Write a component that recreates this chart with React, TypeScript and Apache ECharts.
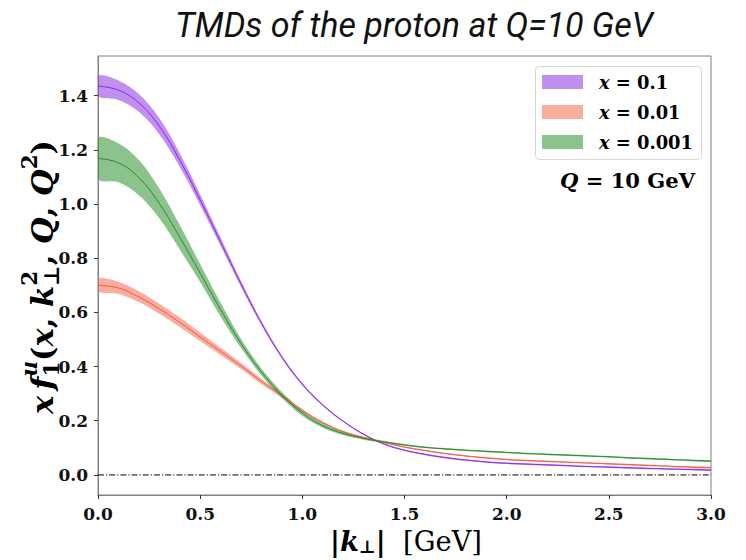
import React, { useEffect, useRef } from "react";
import * as echarts from "echarts";

// ---------------- data ----------------
const kPerp = [0.0, 0.1, 0.2, 0.3, 0.4, 0.5, 0.6, 0.7, 0.8, 0.9, 1.0, 1.1, 1.2, 1.3, 1.4, 1.5, 1.6, 1.7, 1.8, 1.9, 2.0, 2.1, 2.2, 2.3, 2.4, 2.5, 2.6, 2.7, 2.8, 2.9, 3.0];

// x = 0.1
const centralX01 = [1.435, 1.42, 1.373, 1.287, 1.162, 1.015, 0.86, 0.705, 0.56, 0.435, 0.335, 0.258, 0.198, 0.15, 0.114, 0.091, 0.076, 0.064, 0.055, 0.048, 0.043, 0.040, 0.037, 0.034, 0.031, 0.029, 0.026, 0.024, 0.022, 0.020, 0.018];
const lowX01 = [1.398, 1.384, 1.34, 1.257, 1.137, 0.995, 0.845, 0.694, 0.552, 0.429, 0.33, 0.254, 0.195, 0.147, 0.111, 0.088, 0.073, 0.061, 0.052, 0.045, 0.040, 0.037, 0.034, 0.031, 0.028, 0.026, 0.023, 0.021, 0.019, 0.017, 0.015];
const highX01 = [1.473, 1.456, 1.406, 1.317, 1.187, 1.035, 0.875, 0.716, 0.568, 0.441, 0.34, 0.262, 0.201, 0.153, 0.117, 0.094, 0.079, 0.067, 0.058, 0.051, 0.046, 0.043, 0.040, 0.037, 0.034, 0.032, 0.029, 0.027, 0.025, 0.023, 0.021];

// x = 0.01
const centralX001 = [0.7, 0.69, 0.657, 0.613, 0.563, 0.509, 0.456, 0.402, 0.345, 0.292, 0.238, 0.193, 0.16, 0.138, 0.12, 0.103, 0.09, 0.079, 0.07, 0.063, 0.057, 0.053, 0.05, 0.047, 0.044, 0.041, 0.038, 0.035, 0.032, 0.029, 0.027];
const lowX001 = [0.678, 0.669, 0.638, 0.595, 0.546, 0.494, 0.443, 0.391, 0.336, 0.285, 0.233, 0.189, 0.157, 0.135, 0.117, 0.100, 0.087, 0.076, 0.067, 0.060, 0.054, 0.050, 0.047, 0.044, 0.041, 0.038, 0.035, 0.032, 0.029, 0.026, 0.024];
const highX001 = [0.724, 0.713, 0.678, 0.632, 0.581, 0.525, 0.469, 0.413, 0.354, 0.299, 0.243, 0.197, 0.163, 0.141, 0.123, 0.106, 0.093, 0.082, 0.073, 0.066, 0.060, 0.056, 0.053, 0.050, 0.047, 0.044, 0.041, 0.038, 0.035, 0.032, 0.030];

// x = 0.001
const centralX0001 = [1.168, 1.152, 1.097, 1.002, 0.877, 0.745, 0.61, 0.485, 0.38, 0.295, 0.228, 0.182, 0.153, 0.135, 0.122, 0.111, 0.102, 0.096, 0.091, 0.087, 0.083, 0.079, 0.076, 0.073, 0.070, 0.067, 0.063, 0.060, 0.057, 0.054, 0.051];
const lowX0001 = [1.093, 1.08, 1.032, 0.947, 0.832, 0.712, 0.585, 0.468, 0.367, 0.284, 0.218, 0.174, 0.147, 0.13, 0.118, 0.108, 0.099, 0.093, 0.088, 0.084, 0.080, 0.076, 0.073, 0.070, 0.067, 0.064, 0.060, 0.057, 0.054, 0.051, 0.048];
const highX0001 = [1.243, 1.224, 1.162, 1.057, 0.922, 0.778, 0.635, 0.502, 0.393, 0.306, 0.238, 0.19, 0.159, 0.14, 0.126, 0.114, 0.105, 0.099, 0.094, 0.090, 0.086, 0.082, 0.079, 0.076, 0.073, 0.070, 0.066, 0.063, 0.060, 0.057, 0.054];

const zeroLineK = [0.0, 3.0];
const zeroLineV = [0.0, 0.0];

const yTickValues = [0, 0.2, 0.4, 0.6, 0.8, 1.0, 1.2, 1.4];

const legendValues = ["0.1", "0.01", "0.001"];
const titleText = "TMDs of the proton at Q=10 GeV";

// ---------------- styling ----------------
const SERIF = '"DejaVu Serif", "Liberation Serif", serif';
const bands = [
  { name: "x = 0.1", c: centralX01, lo: lowX01, hi: highX01, fill: "rgba(138,43,226,0.53)", line: "#8a2be2" },
  { name: "x = 0.01", c: centralX001, lo: lowX001, hi: highX001, fill: "rgba(245,96,70,0.52)", line: "#f05a44" },
  { name: "x = 0.001", c: centralX0001, lo: lowX0001, hi: highX0001, fill: "rgba(34,139,34,0.52)", line: "#2a8a2a" },
];

type Tok = { t: string; s?: number; it?: boolean; bold?: boolean; dy?: number; stack?: boolean };

let measureCtx: CanvasRenderingContext2D | null = null;
function measure(text: string, font: string) {
  if (!measureCtx) measureCtx = document.createElement("canvas").getContext("2d");
  measureCtx!.font = font;
  return measureCtx!.measureText(text).width;
}
function fontOf(tok: Tok, base: number) {
  const size = base * (tok.s ?? 1);
  return `${tok.it ? "italic " : ""}${tok.bold === false ? "" : "bold "}${size.toFixed(2)}px ${SERIF}`;
}
function layout(tokens: Tok[], base: number) {
  let cursor = 0;
  let lastStart = 0;
  let lastW = 0;
  const items: { t: string; x: number; dy: number; font: string }[] = [];
  tokens.forEach((tok) => {
    const font = fontOf(tok, base);
    const w = measure(tok.t, font);
    let x;
    if (tok.stack) {
      x = lastStart;
      cursor = lastStart + Math.max(lastW, w);
      lastW = Math.max(lastW, w);
    } else {
      x = cursor;
      cursor += w;
      lastStart = x;
      lastW = w;
    }
    items.push({ t: tok.t, x, dy: (tok.dy ?? 0) * base, font });
  });
  return { items, width: cursor, base };
}
function fitLayout(tokens: Tok[], targetW: number) {
  const probe = layout(tokens, 28);
  const base = (28 * targetW) / probe.width;
  return layout(tokens, base);
}
function textEls(items: { t: string; x: number; dy: number; font: string }[], x0: number, y0: number, fill = "#000") {
  return items.map((it) => ({
    type: "text",
    x: x0 + it.x,
    y: y0 + it.dy,
    silent: true,
    z: 100,
    style: { text: it.t, font: it.font, fill, align: "left", verticalAlign: "middle", textAlign: "left", textVerticalAlign: "middle" },
  }));
}

const SUP = -0.42;
const SUB = 0.3;

export default function App() {
  const ref = useRef<HTMLDivElement>(null);
  useEffect(() => {
    document.body.style.margin = "0";
    const chart = echarts.init(ref.current!, null, { renderer: "svg" });

    const series: any[] = [];
    bands.forEach((b) => {
      series.push({
        type: "custom",
        coordinateSystem: "cartesian2d",
        data: [[0, b.c[0]]],
        silent: true,
        clip: true,
        z: 2,
        renderItem: (_params: any, api: any) => {
          const top = kPerp.map((k, i) => api.coord([k, b.hi[i]]));
          const bot = kPerp.map((k, i) => api.coord([k, b.lo[i]])).reverse();
          return {
            type: "polygon",
            shape: { points: top.concat(bot), smooth: 0.35 },
            style: { fill: b.fill, stroke: null },
          };
        },
      });
    });
    bands.forEach((b) => {
      series.push({
        type: "line",
        name: b.name,
        data: kPerp.map((k, i) => [k, b.c[i]]),
        symbol: "none",
        smooth: 0.4,
        lineStyle: { color: b.line, width: 1 },
        silent: true,
        z: 3,
      });
    });
    series.push({
      type: "line",
      data: zeroLineK.map((k, i) => [k, zeroLineV[i]]),
      symbol: "none",
      lineStyle: { color: "#000", width: 1, type: [6, 2, 1.2, 2] },
      silent: true,
      z: 1,
    });

    // ---------- texts ----------
    const yLabelToks: Tok[] = [
      { t: "x", it: true },
      { t: "\u2009" },
      { t: "f", it: true },
      { t: "u", it: true, s: 0.7, dy: SUP },
      { t: "1", s: 0.7, dy: SUB, stack: true },
      { t: "(" },
      { t: "x", it: true },
      { t: ", " },
      { t: "k", it: true },
      { t: "2", s: 0.7, dy: SUP },
      { t: "\u22A5", s: 0.7, dy: SUB, stack: true },
      { t: ", " },
      { t: "Q", it: true },
      { t: ", " },
      { t: "Q", it: true },
      { t: "2", s: 0.7, dy: SUP },
      { t: ")" },
    ];
    const yLab = fitLayout(yLabelToks, 274);

    const xLabelToks: Tok[] = [
      { t: "|" },
      { t: "k", it: true },
      { t: "\u22A5", s: 0.65, dy: 0.2 },
      { t: "|" },
      { t: "  [GeV]", bold: false },
    ];
    const xLab = fitLayout(xLabelToks, 152);

    const legTokSets: Tok[][] = legendValues.map((v) => [{ t: "x", it: true }, { t: " = " + v }]);
    const legBase = fitLayout(legTokSets[2], 94).base;
    const legLayouts = legTokSets.map((ts) => layout(ts, legBase));
    const qToks: Tok[] = [{ t: "Q", it: true }, { t: " = 10 GeV" }];
    const qLab = fitLayout(qToks, 135);

    const titleW = measure(titleText, "italic 32px Roboto");
    const titleSize = (32 * 478) / titleW;

    const legendRows = [82, 112, 142];
    const graphic: any[] = [
      {
        type: "text",
        x: 414,
        y: 25,
        silent: true,
        z: 100,
        style: { text: titleText, font: `italic ${titleSize.toFixed(2)}px Roboto`, fill: "#111", align: "center", verticalAlign: "middle", textAlign: "center", textVerticalAlign: "middle" },
      },
      {
        type: "group",
        x: 42,
        y: 277,
        rotation: Math.PI / 2,
        silent: true,
        children: textEls(yLab.items, -yLab.width / 2, 0),
      },
      {
        type: "group",
        x: 406,
        y: 541,
        silent: true,
        children: textEls(xLab.items, -xLab.width / 2, 0),
      },
      {
        type: "rect",
        silent: true,
        shape: { x: 535.5, y: 66.5, width: 166, height: 93, r: 4 },
        style: { fill: "rgba(255,255,255,0.9)", stroke: "#d8d8d8", lineWidth: 1 },
        z: 90,
      },
      ...bands.map((b, i) => ({
        type: "rect",
        silent: true,
        shape: { x: 542, y: legendRows[i] - 7, width: 41, height: 14 },
        style: { fill: b.fill },
        z: 95,
      })),
      ...legLayouts.map((l, i) => ({
        type: "group",
        x: 599,
        y: legendRows[i],
        silent: true,
        children: textEls(l.items, 0, 0),
      })),
      {
        type: "group",
        x: 695 - qLab.width,
        y: 180,
        silent: true,
        children: textEls(qLab.items, 0, 0),
      },
    ];

    chart.setOption({
      animation: false,
      backgroundColor: "#fff",
      grid: {
        left: 98,
        right: 35,
        top: 56,
        bottom: 65,
        show: true,
        borderColor: "#808080",
        borderWidth: 1,
        containLabel: false,
        outerBoundsMode: "none",
      },
      xAxis: {
        type: "value",
        min: 0,
        max: 3,
        interval: 0.5,
        axisLine: { show: true, onZero: false, lineStyle: { color: "#808080", width: 1 } },
        axisTick: { show: true, length: 4, lineStyle: { color: "#333" } },
        axisLabel: {
          formatter: (v: number) => v.toFixed(1),
          fontFamily: SERIF,
          fontWeight: "bold",
          fontSize: 17,
          color: "#111",
          margin: 10,
        },
        splitLine: { show: false },
      },
      yAxis: {
        type: "value",
        min: -0.074,
        max: 1.546,
        axisLine: { show: true, onZero: false, lineStyle: { color: "#808080", width: 1 } },
        axisTick: { show: true, length: 4, customValues: yTickValues, lineStyle: { color: "#333" } },
        axisLabel: {
          customValues: yTickValues,
          formatter: (v: number) => v.toFixed(1),
          fontFamily: SERIF,
          fontWeight: "bold",
          fontSize: 17,
          color: "#111",
          margin: 10,
        },
        splitLine: { show: false },
      },
      series,
      graphic,
    });
    return () => chart.dispose();
  }, []);
  return <div ref={ref} style={{ position: "fixed", left: 0, top: 0, width: 746, height: 560 }} />;
}
